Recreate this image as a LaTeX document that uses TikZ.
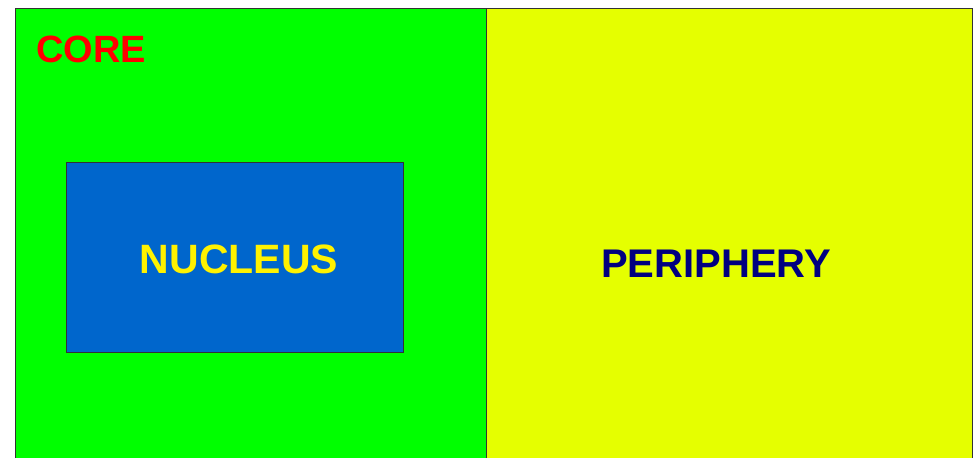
\documentclass[tikz,border=0pt]{standalone}
\usepackage{fontspec}
\setmainfont{Liberation Sans}
\definecolor{coregreen}{HTML}{00FF00}
\definecolor{periyellow}{HTML}{E5FF00}
\definecolor{nucblue}{HTML}{0066CC}
\definecolor{navytext}{HTML}{000080}
\definecolor{edgegray}{HTML}{333333}
\tikzset{
  region/.style={draw=edgegray, line width=1pt, inner sep=0pt, anchor=north west},
  label/.style={inner sep=0pt},
}
\begin{document}
\begin{tikzpicture}[x=1pt,y=-1pt]
\useasboundingbox (0,0) rectangle (975,458);
\clip (0,0) rectangle (975,458);
\fill[white] (0,0) rectangle (975,458);
\node[region, fill=coregreen, minimum width=472pt, minimum height=460pt] (core) at (14.5,7.5) {};
\node[region, fill=periyellow, minimum width=485.5pt, minimum height=460pt] (peri) at (486,7.5) {};
\node[region, fill=nucblue, minimum width=337pt, minimum height=190pt] (nuc) at (66,161.5) {};
\node[label, text=red, font=\fontsize{38}{40}\selectfont\bfseries] (coret) at (91,49) {CORE};
\node[label, text=yellow, font=\fontsize{41}{44}\selectfont\bfseries] (nuct) at (239,259) {NUCLEUS};
\node[label, text=navytext, font=\fontsize{40}{44}\selectfont\bfseries] (perit) at (716,264) {PERIPHERY};
\end{tikzpicture}
\end{document}
